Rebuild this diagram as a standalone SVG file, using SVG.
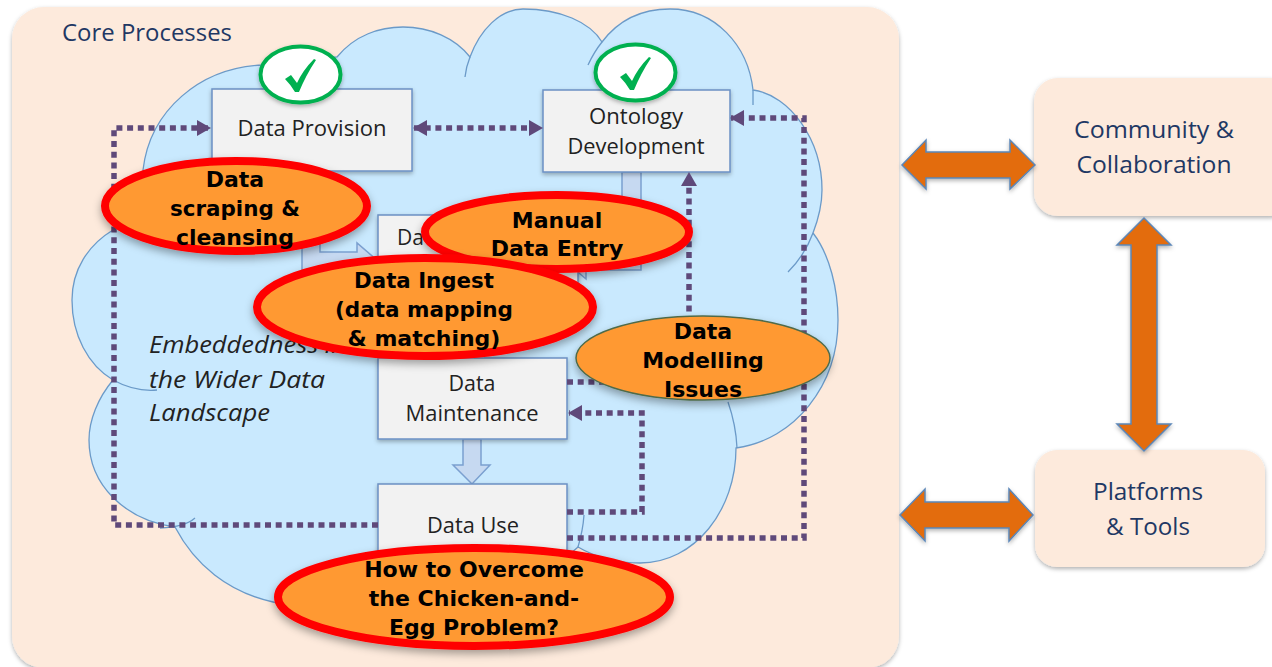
<svg xmlns="http://www.w3.org/2000/svg" width="1272" height="667" viewBox="0 0 1272 667">
<defs>
<style>
.lbl{font-family:"Open Sans","Noto Sans","Liberation Sans",sans-serif;font-size:21px;fill:#222;text-anchor:middle}
.navy{fill:#1f3864;font-size:23px}
.it{font-family:"Open Sans","Noto Sans",sans-serif;font-style:italic;font-size:23px;fill:#222}
.bold{font-family:"DejaVu Sans",sans-serif;font-weight:bold;font-size:22px;fill:#000;text-anchor:middle}
.box{fill:#f2f2f2;stroke:#6b90c4;stroke-width:1.5;filter:url(#sh)}
.soft{fill:#fdeadc;filter:url(#sh)}
.red{fill:#ff9933;stroke:#ff0000;stroke-width:8;filter:url(#sh2)}
.chk{fill:#fff;stroke:#00b050;stroke-width:4;filter:url(#sh)}
.tick{fill:#00b050}
.orange{fill:#e36c0a;stroke:#5b86b8;stroke-width:1.5;filter:url(#sh)}
.blue{fill:#c6d9f1;stroke:#7ba0d0;stroke-width:1.5}
.dot{fill:none;stroke:#5f497a;stroke-width:5.5;stroke-dasharray:6 4.7}
.cl{fill:none;stroke:#6b9ac8;stroke-width:1.3}
</style>
<filter id="sh" x="-20%" y="-20%" width="140%" height="140%"><feDropShadow dx="0" dy="2" stdDeviation="2" flood-color="#000" flood-opacity="0.3"/></filter>
<filter id="sh2" x="-20%" y="-20%" width="140%" height="140%"><feDropShadow dx="0" dy="4" stdDeviation="4" flood-color="#000" flood-opacity="0.35"/></filter>
<marker id="ah" viewBox="0 0 14 16" refX="13" refY="8" markerWidth="14" markerHeight="16" markerUnits="userSpaceOnUse" orient="auto-start-reverse"><path d="M0,0L14,8L0,16z" fill="#5f497a"/></marker>
</defs>

<g id="core-processes">
<rect x="12" y="7" width="887" height="661" rx="32" fill="#fdeadc" filter="url(#sh)"/>
<text class="lbl navy" x="147" y="41" textLength="170" lengthAdjust="spacingAndGlyphs">Core Processes</text>
</g>

<g id="cloud">
<path d="M143,170C150,110 200,68 262,65L337,57C355,35 380,27 403,27C430,27 455,38 470,57C480,30 500,9 523,9C560,9 590,22 602,42C620,18 645,9 670,9C715,9 748,45 753,90C790,95 822,140 822,190C822,205 818,220 813,233C830,255 838,290 838,320C838,385 795,440 736,448C736,510 695,563 640,563C618,563 595,557 578,547C500,620 350,620 273,602C228,592 195,565 175,527C125,520 89,485 89,440C89,420 98,398 113,380C88,365 72,335 72,300C72,270 88,245 113,230L143,215z" fill="#c9e9fe" stroke="#6b9ac8" stroke-width="1.3"/>
<path class="cl" d="M465,77Q466,67 470,57M588,65Q594,52 602,42M753,90V105M813,233Q805,255 788,272M728,402Q736,425 737,448M584,515Q583,530 578,547M160,528Q185,527 195,518M113,380Q135,392 157,390"/>
<text class="it" x="149" y="353" textLength="197" lengthAdjust="spacingAndGlyphs">Embeddedness in</text>
<text class="it" x="149" y="388" textLength="176" lengthAdjust="spacingAndGlyphs">the Wider Data</text>
<text class="it" x="149" y="421" textLength="121" lengthAdjust="spacingAndGlyphs">Landscape</text>
</g>

<g id="flow-arrows">
<path class="blue" d="M302,171H320V252H357V243L378,261L357,280V270H302z"/>
<path class="blue" d="M622,172H641V270H586V279L566,262L586,245H622z"/>
<path class="blue" d="M463,439H481V465H490L472,484L453,465H463z"/>
</g>

<g id="data-provision">
<rect class="box" x="212" y="89" width="200" height="82"/>
<text class="lbl" x="312" y="136" textLength="149" lengthAdjust="spacingAndGlyphs">Data Provision</text>
</g>
<g id="ontology-development">
<rect class="box" x="543" y="90" width="187" height="82"/>
<text class="lbl" x="636" y="124" textLength="94" lengthAdjust="spacingAndGlyphs">Ontology</text>
<text class="lbl" x="636" y="154" textLength="137" lengthAdjust="spacingAndGlyphs">Development</text>
</g>
<g id="data-ingest">
<rect class="box" x="378" y="215" width="200" height="70"/>
<text class="lbl" x="397" y="245" style="text-anchor:start">Da</text>
</g>
<g id="data-maintenance">
<rect class="box" x="378" y="358" width="189" height="81"/>
<text class="lbl" x="472" y="391" textLength="47" lengthAdjust="spacingAndGlyphs">Data</text>
<text class="lbl" x="472" y="421" textLength="133" lengthAdjust="spacingAndGlyphs">Maintenance</text>
</g>
<g id="data-use">
<rect class="box" x="378" y="484" width="189" height="90"/>
<text class="lbl" x="473" y="533" textLength="92" lengthAdjust="spacingAndGlyphs">Data Use</text>
</g>

<g id="connectors">
<path class="dot" d="M378,525H114V128H210" marker-end="url(#ah)"/>
<path class="dot" d="M414,128H542" marker-start="url(#ah)" marker-end="url(#ah)"/>
<path class="dot" d="M567,382H689V173" marker-end="url(#ah)"/>
<path class="dot" d="M567,512H642V413H569" marker-end="url(#ah)"/>
<path class="dot" d="M567,538H804V118H731" marker-end="url(#ah)"/>
</g>

<g id="check-provision">
<ellipse class="chk" cx="300.5" cy="74.5" rx="40" ry="28"/>
<path class="tick" d="M285,79L291,75L297,83Q303,70 314,59L316,60Q306,75 299,92H295Q291,85 285,79z"/>
</g>
<g id="check-ontology">
<ellipse class="chk" cx="635.5" cy="72.5" rx="40" ry="28"/>
<path class="tick" d="M620,77L626,73L632,81Q638,68 649,57L651,58Q641,73 634,90H630Q626,83 620,77z"/>
</g>

<g id="data-scraping">
<ellipse class="red" cx="236" cy="206" rx="131" ry="45"/>
<text class="bold" x="235" y="187">Data</text>
<text class="bold" x="235" y="216" textLength="130" lengthAdjust="spacingAndGlyphs">scraping &amp;</text>
<text class="bold" x="235" y="245">cleansing</text>
</g>
<g id="manual-data-entry">
<ellipse class="red" cx="557" cy="232" rx="132" ry="37"/>
<text class="bold" x="557" y="228">Manual</text>
<text class="bold" x="557" y="256">Data Entry</text>
</g>
<g id="data-ingest-issue">
<ellipse class="red" cx="425" cy="307" rx="168" ry="49"/>
<text class="bold" x="424" y="288" textLength="140" lengthAdjust="spacingAndGlyphs">Data Ingest</text>
<text class="bold" x="424" y="317" textLength="178" lengthAdjust="spacingAndGlyphs">(data mapping</text>
<text class="bold" x="424" y="346">&amp; matching)</text>
</g>
<g id="data-modelling">
<ellipse cx="703" cy="358" rx="127" ry="42" fill="#ff9933" stroke="#4f6b4a" stroke-width="1.5" filter="url(#sh2)"/>
<text class="bold" x="703" y="339">Data</text>
<text class="bold" x="703" y="368">Modelling</text>
<text class="bold" x="703" y="397">Issues</text>
</g>
<g id="chicken-egg">
<ellipse class="red" cx="474" cy="597" rx="196" ry="49"/>
<text class="bold" x="474" y="577">How to Overcome</text>
<text class="bold" x="474" y="606">the Chicken-and-</text>
<text class="bold" x="474" y="635">Egg Problem?</text>
</g>

<g id="community">
<rect class="soft" x="1034" y="78" width="260" height="138" rx="24"/>
<text class="lbl navy" x="1154" y="138" textLength="160" lengthAdjust="spacingAndGlyphs">Community &amp;</text>
<text class="lbl navy" x="1154" y="173" textLength="155" lengthAdjust="spacingAndGlyphs">Collaboration</text>
</g>
<g id="platforms">
<rect class="soft" x="1035" y="450" width="230" height="117" rx="22"/>
<text class="lbl navy" x="1148" y="500" textLength="110" lengthAdjust="spacingAndGlyphs">Platforms</text>
<text class="lbl navy" x="1148" y="535" textLength="84" lengthAdjust="spacingAndGlyphs">&amp; Tools</text>
</g>
<g id="big-arrows">
<path class="orange" d="M902,165L926,140V152H1010V140L1035,165L1010,189V178H926V189z"/>
<path class="orange" d="M900,515L925,489V502H1009V489L1033,515L1009,541V528H925V541z"/>
<path class="orange" d="M1144,218L1171,245H1157V424H1171L1144,451L1117,424H1131V245H1117z"/>
</g>
</svg>
